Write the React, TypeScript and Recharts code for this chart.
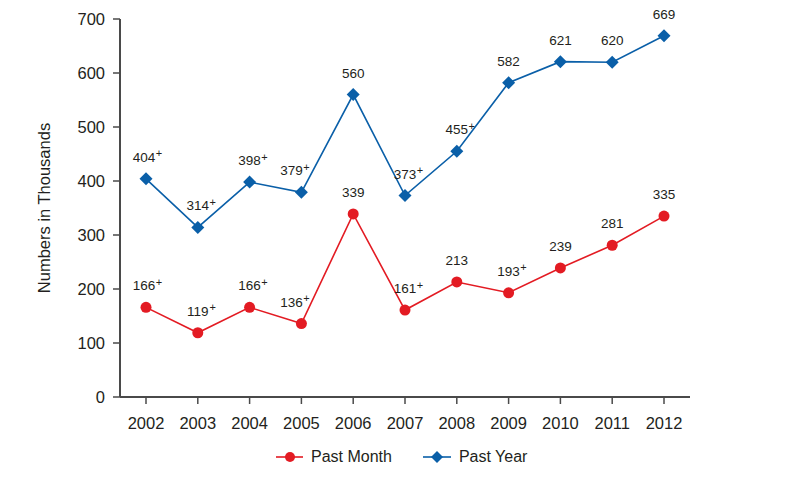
import React from "react";
import {
  LineChart,
  Line,
  XAxis,
  YAxis,
  Legend,
  LabelList,
  Label,
} from "recharts";

const years = ["2002", "2003", "2004", "2005", "2006", "2007", "2008", "2009", "2010", "2011", "2012"];
const pastMonth = [166, 119, 166, 136, 339, 161, 213, 193, 239, 281, 335];
const pastYear = [404, 314, 398, 379, 560, 373, 455, 582, 621, 620, 669];
// "+" marks shown next to the value
const pastMonthPlus = [true, true, true, true, false, true, false, true, false, false, false];
const pastYearPlus = [true, true, true, true, false, true, true, false, false, false, false];
const yTicks = [0, 100, 200, 300, 400, 500, 600, 700];

const data = years.map((year, i) => ({
  year,
  month: pastMonth[i],
  pastYear: pastYear[i],
}));

const RED = "#e31b23";
const BLUE = "#0a5fa8";
const TEXT = "#231f20";
const AXIS = "#4a4a4a";
const FONT = "'Liberation Sans', Arial, sans-serif";

function makeLabel(flags: boolean[]) {
  return (props: any) => {
    const { x, y, value, index } = props;
    const dx = index === 3 ? -10 : index === 0 ? -2 : 0;
    const cx = x + dx;
    const w = String(value).length * 7.5;
    return (
      <g>
        <text x={cx} y={y - 17} textAnchor="middle" fontSize={13.5} fill={TEXT} fontFamily={FONT}>
          {value}
        </text>
        {flags[index] && (
          <text x={cx + w / 2 + 0.5} y={y - 21.5} fontSize={11} fill={TEXT} fontFamily={FONT}>
            +
          </text>
        )}
      </g>
    );
  };
}

const circleDot = (props: any) => {
  const { cx, cy, index } = props;
  return <circle key={"m" + index} cx={cx} cy={cy} r={5.5} fill={RED} />;
};

const diamondDot = (props: any) => {
  const { cx, cy, index } = props;
  const s = 6.5;
  return (
    <path
      key={"y" + index}
      d={`M${cx},${cy - s}L${cx + s},${cy}L${cx},${cy + s}L${cx - s},${cy}Z`}
      fill={BLUE}
    />
  );
};

const renderYLabel = (props: any) => {
  const { viewBox } = props;
  const x = 36;
  const y = viewBox.y + viewBox.height / 2;
  return (
    <text
      x={x}
      y={y}
      transform={`rotate(-90, ${x}, ${y})`}
      textAnchor="middle"
      dominantBaseline="central"
      fontSize={16.5}
      fill={TEXT}
      fontFamily={FONT}
    >
      Numbers in Thousands
    </text>
  );
};

const renderLegend = () => (
  <div style={{ display: "flex", alignItems: "center", fontFamily: FONT, fontSize: 16, color: TEXT }}>
    <svg width={28} height={14}>
      <line x1={0} y1={7} x2={27} y2={7} stroke={RED} strokeWidth={1.6} />
      <circle cx={14} cy={7} r={5} fill={RED} />
    </svg>
    <span style={{ marginLeft: 7 }}>Past Month</span>
    <svg width={28} height={14} style={{ marginLeft: 31 }}>
      <line x1={0} y1={7} x2={28} y2={7} stroke={BLUE} strokeWidth={1.6} />
      <path d="M14,1L20,7L14,13L8,7Z" fill={BLUE} />
    </svg>
    <span style={{ marginLeft: 8 }}>Past Year</span>
  </div>
);

export default function App() {
  return (
    <div style={{ width: 789, height: 475, fontFamily: FONT }}>
      <LineChart
        width={789}
        height={475}
        data={data}
        margin={{ top: 11, right: 107, left: 0, bottom: 0 }}
      >
        <XAxis
          dataKey="year"
          padding={{ left: 26, right: 26 }}
          height={86}
          tickSize={7}
          tickMargin={13}
          axisLine={{ stroke: AXIS, strokeWidth: 2 }}
          tickLine={{ stroke: AXIS, strokeWidth: 1.5 }}
          tick={{ fontSize: 16.5, fill: TEXT, fontFamily: FONT }}
        />
        <YAxis
          width={112}
          domain={[0, 700]}
          ticks={yTicks}
          tickSize={7}
          tickMargin={8}
          axisLine={{ stroke: AXIS, strokeWidth: 2 }}
          tickLine={{ stroke: AXIS, strokeWidth: 1.5 }}
          tick={{ fontSize: 16.5, fill: TEXT, fontFamily: FONT }}
        >
          <Label content={renderYLabel} />
        </YAxis>
        <Legend
          layout="horizontal"
          verticalAlign="middle"
          align="center"
          content={renderLegend}
          wrapperStyle={{ left: 268, top: 440, width: 320 }}
        />
        <Line
          type="linear"
          dataKey="month"
          name="Past Month"
          stroke={RED}
          strokeWidth={1.6}
          dot={circleDot}
          activeDot={false}
          isAnimationActive={false}
        >
          <LabelList dataKey="month" content={makeLabel(pastMonthPlus)} />
        </Line>
        <Line
          type="linear"
          dataKey="pastYear"
          name="Past Year"
          stroke={BLUE}
          strokeWidth={1.6}
          dot={diamondDot}
          activeDot={false}
          isAnimationActive={false}
        >
          <LabelList dataKey="pastYear" content={makeLabel(pastYearPlus)} />
        </Line>
      </LineChart>
    </div>
  );
}
